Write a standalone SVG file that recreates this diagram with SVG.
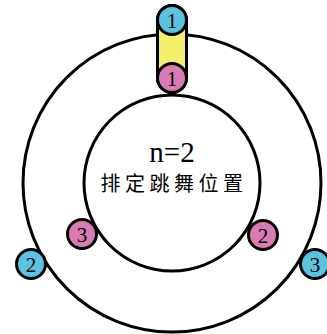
<svg xmlns="http://www.w3.org/2000/svg" width="327" height="334" viewBox="0 0 327 334">
<style>
.ring{fill:none;stroke:#000;stroke-width:3}
.node{stroke:#000;stroke-width:3}
.blue{fill:#5bc3e0}
.pink{fill:#d97cb4}
.num{font-family:"Liberation Serif",serif;font-size:21px;text-anchor:middle;fill:#000}
</style>
<rect width="327" height="334" fill="#fff"/>
<g id="connectors">
<circle class="ring" cx="172" cy="183" r="149"/>
<circle class="ring" cx="172" cy="183" r="88"/>
<rect x="157.5" y="5.5" width="29" height="87" rx="14.5" fill="#f4ee6c" stroke="#000" stroke-width="3"/>
</g>
<g id="center-label">
<text x="172" y="162" font-family="Liberation Serif,serif" font-size="29" text-anchor="middle">n=2</text>
<text x="174" y="191" font-family="Noto Sans CJK SC,sans-serif" font-size="20" letter-spacing="4.5" text-anchor="middle">排定跳舞位置</text>
</g>
<g id="blue1"><circle class="node blue" cx="172" cy="20" r="14.5"/><text class="num" x="172" y="27.5">1</text></g>
<g id="pink1"><circle class="node pink" cx="172" cy="78" r="14.5"/><text class="num" x="172" y="85.5">1</text></g>
<g id="blue2"><circle class="node blue" cx="31" cy="264" r="14.5"/><text class="num" x="31" y="271.5">2</text></g>
<g id="blue3"><circle class="node blue" cx="315" cy="264" r="14.5"/><text class="num" x="315" y="271.5">3</text></g>
<g id="pink3"><circle class="node pink" cx="82" cy="234" r="14.5"/><text class="num" x="82" y="241.5">3</text></g>
<g id="pink2"><circle class="node pink" cx="263" cy="235" r="14.5"/><text class="num" x="263" y="242.5">2</text></g>
</svg>
